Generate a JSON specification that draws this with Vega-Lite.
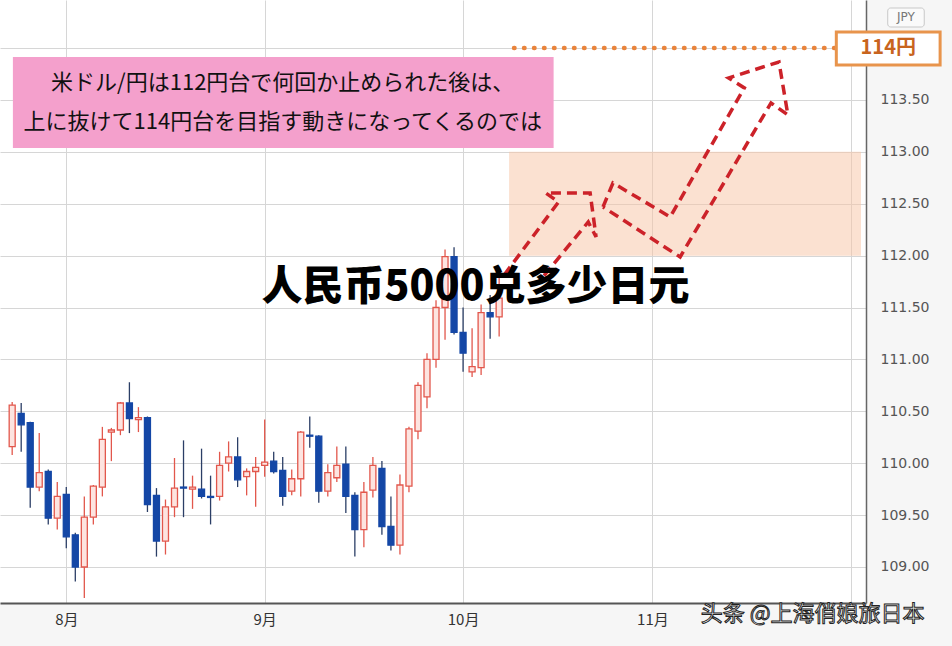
{
  "$schema": "https://vega.github.io/schema/vega-lite/v6.json",
  "width": 866,
  "height": 603,
  "autosize": {"type": "none"},
  "padding": {"left": 0, "top": 0, "right": 86, "bottom": 43},
  "background": "#f6f6f6",
  "config": {"view": {"fill": "white", "stroke": null}},
  "datasets": {
    "candles": [
      {"i": -6, "o": 110.16, "h": 110.59, "l": 110.08, "c": 110.56},
      {"i": -5, "o": 110.48, "h": 110.58, "l": 110.11, "c": 110.37},
      {"i": -4, "o": 110.39, "h": 110.40, "l": 109.57, "c": 109.77},
      {"i": -3, "o": 109.77, "h": 110.29, "l": 109.73, "c": 109.91},
      {"i": -2, "o": 109.92, "h": 109.94, "l": 109.41, "c": 109.47},
      {"i": -1, "o": 109.47, "h": 109.82, "l": 109.36, "c": 109.68},
      {"i": 0, "o": 109.70, "h": 109.77, "l": 109.18, "c": 109.29},
      {"i": 1, "o": 109.31, "h": 109.33, "l": 108.86, "c": 109.00},
      {"i": 2, "o": 109.00, "h": 109.68, "l": 108.70, "c": 109.48},
      {"i": 3, "o": 109.48, "h": 109.79, "l": 109.41, "c": 109.78},
      {"i": 4, "o": 109.77, "h": 110.35, "l": 109.68, "c": 110.23},
      {"i": 5, "o": 110.30, "h": 110.34, "l": 110.02, "c": 110.32},
      {"i": 6, "o": 110.32, "h": 110.59, "l": 110.27, "c": 110.58},
      {"i": 7, "o": 110.58, "h": 110.78, "l": 110.29, "c": 110.43},
      {"i": 8, "o": 110.42, "h": 110.54, "l": 110.30, "c": 110.44},
      {"i": 9, "o": 110.44, "h": 110.45, "l": 109.53, "c": 109.60},
      {"i": 10, "o": 109.69, "h": 109.76, "l": 109.10, "c": 109.25},
      {"i": 11, "o": 109.25, "h": 109.65, "l": 109.12, "c": 109.58},
      {"i": 12, "o": 109.58, "h": 110.05, "l": 109.48, "c": 109.76},
      {"i": 13, "o": 109.77, "h": 110.22, "l": 109.48, "c": 109.76},
      {"i": 14, "o": 109.75, "h": 109.88, "l": 109.56, "c": 109.77},
      {"i": 15, "o": 109.75, "h": 110.14, "l": 109.66, "c": 109.68},
      {"i": 16, "o": 109.68, "h": 109.88, "l": 109.41, "c": 109.67},
      {"i": 17, "o": 109.68, "h": 110.11, "l": 109.64, "c": 109.98},
      {"i": 18, "o": 110.00, "h": 110.21, "l": 109.92, "c": 110.06},
      {"i": 19, "o": 110.06, "h": 110.25, "l": 109.77, "c": 109.84},
      {"i": 20, "o": 109.87, "h": 109.95, "l": 109.69, "c": 109.92},
      {"i": 21, "o": 109.92, "h": 110.06, "l": 109.58, "c": 109.96},
      {"i": 22, "o": 109.98, "h": 110.42, "l": 109.87, "c": 110.01},
      {"i": 23, "o": 110.02, "h": 110.11, "l": 109.90, "c": 109.92},
      {"i": 24, "o": 109.93, "h": 110.06, "l": 109.59, "c": 109.68},
      {"i": 25, "o": 109.73, "h": 109.94, "l": 109.69, "c": 109.85},
      {"i": 26, "o": 109.85, "h": 110.31, "l": 109.68, "c": 110.30},
      {"i": 27, "o": 110.27, "h": 110.45, "l": 110.15, "c": 110.26},
      {"i": 28, "o": 110.26, "h": 110.27, "l": 109.62, "c": 109.73},
      {"i": 29, "o": 109.73, "h": 109.99, "l": 109.68, "c": 109.91},
      {"i": 30, "o": 109.86, "h": 110.16, "l": 109.82, "c": 109.98},
      {"i": 31, "o": 109.99, "h": 110.16, "l": 109.52, "c": 109.68},
      {"i": 32, "o": 109.69, "h": 109.72, "l": 109.10, "c": 109.36},
      {"i": 33, "o": 109.36, "h": 109.82, "l": 109.19, "c": 109.72},
      {"i": 34, "o": 109.74, "h": 110.06, "l": 109.67, "c": 109.98},
      {"i": 35, "o": 109.95, "h": 110.02, "l": 109.31, "c": 109.39},
      {"i": 36, "o": 109.39, "h": 109.68, "l": 109.16, "c": 109.21},
      {"i": 37, "o": 109.21, "h": 109.89, "l": 109.12, "c": 109.79},
      {"i": 38, "o": 109.78, "h": 110.35, "l": 109.72, "c": 110.33},
      {"i": 39, "o": 110.31, "h": 110.78, "l": 110.23, "c": 110.75},
      {"i": 40, "o": 110.64, "h": 111.06, "l": 110.53, "c": 111.00},
      {"i": 41, "o": 111.00, "h": 111.57, "l": 110.92, "c": 111.50},
      {"i": 42, "o": 111.50, "h": 112.06, "l": 111.19, "c": 111.99},
      {"i": 43, "o": 111.99, "h": 112.08, "l": 111.24, "c": 111.26},
      {"i": 44, "o": 111.26, "h": 111.50, "l": 110.88, "c": 111.06},
      {"i": 45, "o": 110.88, "h": 111.30, "l": 110.83, "c": 110.93},
      {"i": 46, "o": 110.92, "h": 111.53, "l": 110.85, "c": 111.45},
      {"i": 47, "o": 111.45, "h": 111.62, "l": 111.20, "c": 111.41},
      {"i": 48, "o": 111.41, "h": 111.83, "l": 111.22, "c": 111.59}
    ],
    "arrows": [
      {"g": "A", "k": 0, "x": 48.56, "y": 111.814},
      {"g": "A", "k": 1, "x": 54.59, "y": 112.517},
      {"g": "A", "k": 2, "x": 53.16, "y": 112.604},
      {"g": "A", "k": 3, "x": 58.09, "y": 112.604},
      {"g": "A", "k": 4, "x": 58.75, "y": 112.180},
      {"g": "A", "k": 5, "x": 57.88, "y": 112.324},
      {"g": "A", "k": 6, "x": 52.39, "y": 111.746},
      {"g": "B", "k": 0, "x": 59.52, "y": 112.469},
      {"g": "B", "k": 1, "x": 60.62, "y": 112.700},
      {"g": "B", "k": 2, "x": 66.97, "y": 112.373},
      {"g": "B", "k": 3, "x": 75.19, "y": 113.616},
      {"g": "B", "k": 4, "x": 73.44, "y": 113.712},
      {"g": "B", "k": 5, "x": 79.03, "y": 113.866},
      {"g": "B", "k": 6, "x": 80.02, "y": 113.355},
      {"g": "B", "k": 7, "x": 78.15, "y": 113.471},
      {"g": "B", "k": 8, "x": 68.07, "y": 111.987},
      {"g": "B", "k": 9, "x": 59.52, "y": 112.469}
    ]
  },
  "layer": [
    {
      "data": {"values": [{"x1": 49.1, "x2": 88.127, "y1": 112, "y2": 113}]},
      "mark": {"type": "rect", "fill": "#f8c4a4", "opacity": 0.5},
      "encoding": {
        "x": {"field": "x1", "type": "quantitative", "scale": {"domain": [-6.796, 88.127], "nice": false, "zero": false},
          "axis": {"values": [0, 22, 44, 65, 87], "title": null,
            "labelExpr": "datum.value == 0 ? '8月' : datum.value == 22 ? '9月' : datum.value == 44 ? '10月' : datum.value == 65 ? '11月' : ''",
            "labelFont": "Noto Sans CJK SC", "labelFontSize": 15, "labelColor": "#333333", "labelPadding": 9,
            "ticks": false, "domainColor": "#555555", "domainWidth": 2,
            "grid": true, "gridColor": "#d6d6d6", "gridWidth": 1}},
        "x2": {"field": "x2"},
        "y": {"field": "y1", "type": "quantitative", "scale": {"domain": [108.653, 114.463], "nice": false, "zero": false},
          "axis": {"orient": "right", "values": [109, 109.5, 110, 110.5, 111, 111.5, 112, 112.5, 113, 113.5, 114], "title": null,
            "labelExpr": "datum.value >= 114 ? '' : format(datum.value, '.2f')",
            "labelFont": "DejaVu Sans", "labelFontSize": 14, "labelColor": "#555555", "labelPadding": 14,
            "ticks": false, "domainColor": "#666666", "domainWidth": 1.5,
            "grid": true, "gridColor": "#d6d6d6", "gridWidth": 1}},
        "y2": {"field": "y2"}
      }
    },
    {
      "data": {"name": "candles"},
      "mark": {"type": "rule", "strokeWidth": 1.3},
      "encoding": {
        "x": {"field": "i", "type": "quantitative"},
        "y": {"field": "l", "type": "quantitative"},
        "y2": {"field": "h"},
        "color": {"condition": {"test": "datum.c >= datum.o", "value": "#e2574c"}, "value": "#2b3e66"}
      }
    },
    {
      "data": {"name": "candles"},
      "mark": {"type": "bar", "width": 6, "strokeWidth": 1.3},
      "encoding": {
        "x": {"field": "i", "type": "quantitative"},
        "y": {"field": "o", "type": "quantitative"},
        "y2": {"field": "c"},
        "fill": {"condition": {"test": "datum.c >= datum.o", "value": "#fde4e0"}, "value": "#1447a6"},
        "stroke": {"condition": {"test": "datum.c >= datum.o", "value": "#e2574c"}, "value": "#1447a6"}
      }
    },
    {
      "data": {"name": "arrows"},
      "mark": {"type": "line", "stroke": "#cc2229", "strokeWidth": 3.5, "strokeDash": [10, 6]},
      "encoding": {
        "x": {"field": "x", "type": "quantitative"},
        "y": {"field": "y", "type": "quantitative"},
        "detail": {"field": "g"},
        "order": {"field": "k", "type": "quantitative"}
      }
    },
    {
      "data": {"values": [{"x1": 49.65, "x2": 85.3, "y": 114}]},
      "mark": {"type": "rule", "stroke": "#e8843c", "strokeWidth": 4.5, "strokeDash": [0.5, 9.5], "strokeCap": "round"},
      "encoding": {
        "x": {"field": "x1", "type": "quantitative"},
        "x2": {"field": "x2"},
        "y": {"field": "y", "type": "quantitative"}
      }
    },
    {
      "data": {"values": [{"x1": -5.92, "x2": 54.04, "y1": 113.037, "y2": 113.914}]},
      "mark": {"type": "rect", "fill": "#f4a0cc"},
      "encoding": {
        "x": {"field": "x1", "type": "quantitative"},
        "x2": {"field": "x2"},
        "y": {"field": "y1", "type": "quantitative"},
        "y2": {"field": "y2"}
      }
    },
    {
      "data": {"values": [
        {"x": 24.0, "y": 113.664, "t": "米ドル/円は112円台で何回か止められた後は、"},
        {"x": 24.0, "y": 113.288, "t": "上に抜けて114円台を目指す動きになってくるのでは"}
      ]},
      "mark": {"type": "text", "font": "Noto Sans CJK JP", "fontSize": 22, "color": "#111111", "align": "center", "baseline": "middle"},
      "encoding": {
        "x": {"field": "x", "type": "quantitative"},
        "y": {"field": "y", "type": "quantitative"},
        "text": {"field": "t"}
      }
    },
    {
      "data": {"values": [{"x1": 91.09, "x2": 95.14, "y1": 114.203, "y2": 114.386}]},
      "mark": {"type": "rect", "fill": "#fafafa", "stroke": "#c8c8c8", "strokeWidth": 1, "cornerRadius": 3},
      "encoding": {
        "x": {"field": "x1", "type": "quantitative"},
        "x2": {"field": "x2"},
        "y": {"field": "y1", "type": "quantitative"},
        "y2": {"field": "y2"}
      }
    },
    {
      "data": {"values": [{"x": 93.1, "y": 114.30, "t": "JPY"}]},
      "mark": {"type": "text", "font": "DejaVu Sans", "fontSize": 12, "color": "#777777", "align": "center", "baseline": "middle"},
      "encoding": {
        "x": {"field": "x", "type": "quantitative"},
        "y": {"field": "y", "type": "quantitative"},
        "text": {"field": "t"}
      }
    },
    {
      "data": {"values": [{"x1": 85.39, "x2": 96.9, "y1": 113.837, "y2": 114.155}]},
      "mark": {"type": "rect", "fill": "white", "stroke": "#e8944c", "strokeWidth": 3},
      "encoding": {
        "x": {"field": "x1", "type": "quantitative"},
        "x2": {"field": "x2"},
        "y": {"field": "y1", "type": "quantitative"},
        "y2": {"field": "y2"}
      }
    },
    {
      "data": {"values": [{"x": 91.15, "y": 114.0, "t": "114円"}]},
      "mark": {"type": "text", "font": "Noto Sans CJK JP", "fontSize": 20, "fontWeight": "bold", "color": "#c8641e", "align": "center", "baseline": "middle"},
      "encoding": {
        "x": {"field": "x", "type": "quantitative"},
        "y": {"field": "y", "type": "quantitative"},
        "text": {"field": "t"}
      }
    },
    {
      "data": {"values": [{"x": 45.38, "y": 111.688, "t": "人民币5000兑多少日元"}]},
      "mark": {"type": "text", "font": "Noto Sans CJK SC", "fontSize": 41, "fontWeight": 900, "fill": "#000000", "align": "center", "baseline": "middle"},
      "encoding": {
        "x": {"field": "x", "type": "quantitative"},
        "y": {"field": "y", "type": "quantitative"},
        "text": {"field": "t"}
      }
    },
    {
      "data": {"values": [{"x": 82.76, "y": 108.547, "t": "头条 @上海俏娘旅日本"}]},
      "mark": {"type": "text", "font": "Noto Sans CJK SC", "fontSize": 22, "fill": "white", "stroke": "#222222", "strokeWidth": 1, "align": "center", "baseline": "middle"},
      "encoding": {
        "x": {"field": "x", "type": "quantitative"},
        "y": {"field": "y", "type": "quantitative"},
        "text": {"field": "t"}
      }
    }
  ]
}
